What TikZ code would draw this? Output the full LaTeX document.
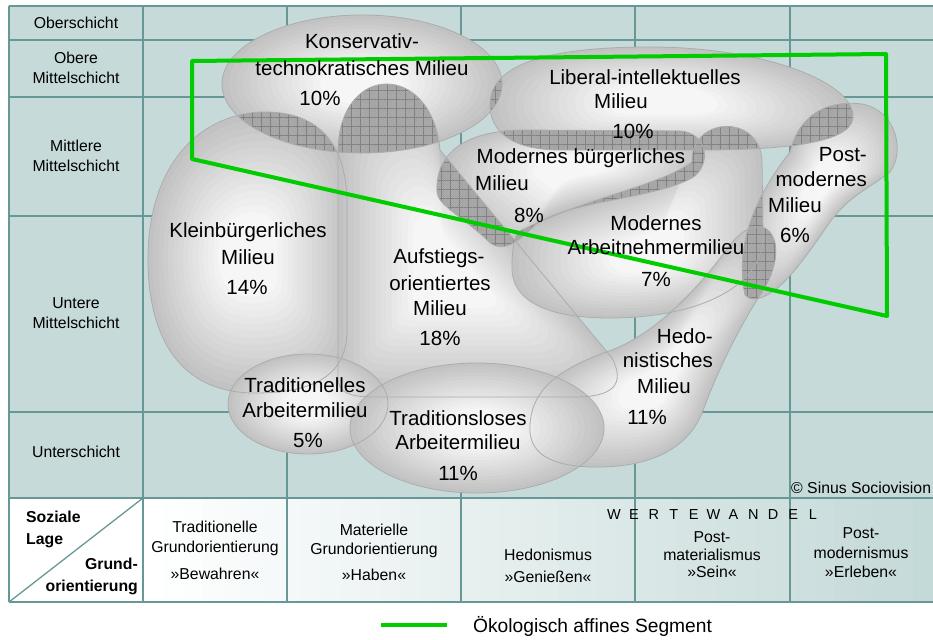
\documentclass[tikz,border=0pt]{standalone}
\usepackage{fontspec}
\setmainfont{Liberation Sans}
\usetikzlibrary{patterns.meta}

\definecolor{gridbg}{RGB}{197,218,217}
\definecolor{gridline}{RGB}{104,152,150}
\definecolor{blobin}{RGB}{247,247,247}
\definecolor{blobout}{RGB}{194,194,194}
\definecolor{blobedge}{RGB}{172,172,172}
\definecolor{hatchfill}{RGB}{176,176,176}
\definecolor{hatchfine}{RGB}{158,158,158}
\definecolor{hatchline}{RGB}{130,130,130}
\definecolor{oekogreen}{RGB}{0,204,0}

% Umrisse der Milieus (Pixelkoordinaten, y nach unten)
\newcommand{\pathKonserv}{(362,84) ellipse [x radius=140, y radius=69]}
\newcommand{\pathLiberal}{(490,105) .. controls (490,60) and (560,47) .. (650,47) .. controls (760,47) and (850,80) .. (853,115) .. controls (855,140) and (800,150) .. (700,150) -- (560,150) .. controls (510,150) and (490,130) .. (490,105) -- cycle}
\newcommand{\pathKleinb}{(148,265) .. controls (146,160) and (205,112) .. (265,112) .. controls (320,112) and (347,145) .. (347,205) -- (347,330) .. controls (347,378) and (310,393) .. (255,393) .. controls (185,393) and (150,345) .. (148,265) -- cycle}
\newcommand{\pathAufst}{(338,378) -- (338,150) .. controls (340,62) and (432,62) .. (440,150) -- (612,358) .. controls (626,385) and (612,397) .. (575,397) -- (375,397) .. controls (348,397) and (338,392) .. (338,378) -- cycle}
\newcommand{\pathModBuerg}{(437,192) .. controls (435,150) and (470,130) .. (525,130) -- (680,131) .. controls (708,133) and (712,165) .. (692,178) .. controls (650,200) and (570,200) .. (535,225) .. controls (515,245) and (500,255) .. (485,238) .. controls (460,215) and (438,205) .. (437,192) -- cycle}
\newcommand{\pathModArb}{(518,232) .. controls (590,196) and (660,186) .. (692,162) .. controls (690,118) and (758,112) .. (762,160) -- (763,235) .. controls (765,285) and (700,318) .. (610,318) .. controls (545,318) and (512,300) .. (512,268) .. controls (512,250) and (514,238) .. (518,232) -- cycle}
\newcommand{\pathPostmod}{(745,295) .. controls (735,250) and (752,200) .. (790,152) .. controls (800,112) and (830,100) .. (862,104) .. controls (895,110) and (906,150) .. (890,172) .. controls (870,188) and (850,195) .. (830,222) .. controls (805,258) and (785,287) .. (765,296) .. controls (757,300) and (749,300) .. (745,295) -- cycle}
\newcommand{\pathHedon}{(765,228) .. controls (782,238) and (778,270) .. (760,295) .. controls (738,330) and (718,370) .. (704,408) .. controls (690,448) and (652,467) .. (597,467) .. controls (548,467) and (528,452) .. (530,425) .. controls (532,388) and (560,368) .. (612,350) .. controls (650,335) and (690,300) .. (730,245) .. controls (740,232) and (752,224) .. (765,228) -- cycle}
\newcommand{\pathTradArb}{(308,404) ellipse [x radius=80, y radius=50]}
\newcommand{\pathTradlos}{(477,428) ellipse [x radius=127, y radius=65]}

% Milieu-Flaeche: Verlauf in Stufen zur Mitte hin
\newcommand{\milieublob}[2]{%
  \begin{scope}
    \clip #1;
    \fill[blobout] #1;
    \foreach \k [evaluate=\k as \s using {1-0.05*\k}, evaluate=\k as \c using {7*\k}] in {1,...,14}
      \fill[blobin!\c!blobout, scale around={\s:#2}] #1;
  \end{scope}}

\tikzset{
  gridrule/.style={draw=gridline, line width=1.3pt},
  blobline/.style={draw=blobedge, line width=0.8pt},
  hatched/.style={fill=hatchfill,
    postaction={pattern={Hatch[angle=45,distance=1.6pt,line width=0.25pt]}, pattern color=hatchfine},
    postaction={pattern={Hatch[angle=0,distance=9pt,line width=0.6pt]}, pattern color=hatchline}},
  oeko/.style={draw=oekogreen, line width=4pt},
  milieu/.style={font=\fontsize{20.5}{24}\selectfont, inner sep=0pt},
  schicht/.style={font=\fontsize{15.8}{19.5}\selectfont, inner sep=0pt, align=center},
  orient/.style={font=\fontsize{15.8}{20}\selectfont, inner sep=0pt, align=center},
}

\begin{document}
\begin{tikzpicture}[x=1pt, y=-1pt]
\useasboundingbox (0,0) rectangle (933,639);

% Raster
\fill[gridbg] (9,6) rectangle (933,498);
\fill[white] (9,498) rectangle (143,602);
\foreach \i [evaluate=\i as \w using {100-\i*2.6}] in {0,...,39}
  \fill[white!\w!gridbg] ({143+\i*19.75},498) rectangle ({143+(\i+1)*19.75+0.6},602);
\foreach \y in {6,40,97,216,412,498,602}
  \draw[gridrule] (9,\y) -- (933,\y);
\foreach \x in {9,143,287,461,635,790}
  \draw[gridrule] (\x,6) -- (\x,602);
\draw[gridrule] (9,602) -- (143,498);

% Milieus
\milieublob{\pathKonserv}{(362,84)}
\milieublob{\pathLiberal}{(660,100)}
\milieublob{\pathKleinb}{(248,255)}
\milieublob{\pathAufst}{(445,270)}
\milieublob{\pathModBuerg}{(575,165)}
\milieublob{\pathModArb}{(650,255)}
\milieublob{\pathPostmod}{(825,180)}
\milieublob{\pathHedon}{(655,385)}
\milieublob{\pathTradArb}{(308,404)}
\milieublob{\pathTradlos}{(477,428)}

% Ueberschneidungen
\begin{scope} \clip \pathKonserv; \fill[hatched] \pathKleinb; \end{scope}
\begin{scope} \clip \pathKonserv; \fill[hatched] \pathAufst; \end{scope}
\begin{scope} \clip \pathKonserv; \fill[hatched] \pathLiberal; \end{scope}
\begin{scope} \clip \pathLiberal; \fill[hatched] \pathModBuerg; \end{scope}
\begin{scope} \clip \pathLiberal; \fill[hatched] \pathModArb; \end{scope}
\begin{scope} \clip \pathLiberal; \fill[hatched] \pathPostmod; \end{scope}
\begin{scope} \clip \pathAufst; \fill[hatched] \pathModBuerg; \end{scope}
\begin{scope} \clip \pathModBuerg; \fill[hatched] \pathModArb; \end{scope}
\begin{scope} \clip \pathModArb; \fill[hatched] \pathPostmod; \end{scope}
\begin{scope} \clip \pathPostmod; \fill[hatched] \pathHedon; \end{scope}

\draw[blobline] \pathKonserv;
\draw[blobline] \pathLiberal;
\draw[blobline] \pathKleinb;
\draw[blobline] \pathAufst;
\draw[blobline] \pathModBuerg;
\draw[blobline] \pathModArb;
\draw[blobline] \pathPostmod;
\draw[blobline] \pathHedon;
\draw[blobline] \pathTradArb;
\draw[blobline] \pathTradlos;

% oekologisch affines Segment
\draw[oeko, line join=round] (192,61) -- (886,54) -- (887,316) -- (192,159) -- cycle;

% Schichten
\node[schicht] (ober) at (76,23) {Oberschicht};
\node[schicht] (obm) at (76,68) {Obere\\Mittelschicht};
\node[schicht] (mim) at (76,156) {Mittlere\\Mittelschicht};
\node[schicht] (unm) at (76,313) {Untere\\Mittelschicht};
\node[schicht] (unt) at (76,452) {Unterschicht};

% Milieu-Beschriftungen
\node[milieu] (kon1) at (362,41) {Konservativ-};
\node[milieu] (kon2) at (362,68) {technokratisches Milieu};
\node[milieu] (kon3) at (320,98) {10\%};
\node[milieu] (lib1) at (645,77) {Liberal-intellektuelles};
\node[milieu] (lib2) at (621,101) {Milieu};
\node[milieu] (lib3) at (633,131) {10\%};
\node[milieu] (mb1) at (581,158) {Modernes bürgerliches};
\node[milieu, anchor=west] (mb2) at (475,183) {Milieu};
\node[milieu] (mb3) at (529,215) {8\%};
\node[milieu] (ma1) at (656,223) {Modernes};
\node[milieu] (ma2) at (656,247) {Arbeitnehmermilieu};
\node[milieu] (ma3) at (656,279) {7\%};
\node[milieu, anchor=east] (pm1) at (867,155) {Post-};
\node[milieu, anchor=east] (pm2) at (867,179) {modernes};
\node[milieu] (pm3) at (795,205) {Milieu};
\node[milieu] (pm4) at (795,235) {6\%};
\node[milieu] (kb1) at (248,232) {Kleinbürgerliches};
\node[milieu] (kb2) at (248,257) {Milieu};
\node[milieu] (kb3) at (247,287) {14\%};
\node[milieu] (au1) at (439,258) {Aufstiegs-};
\node[milieu] (au2) at (440,283) {orientiertes};
\node[milieu] (au3) at (440,308) {Milieu};
\node[milieu] (au4) at (440,338) {18\%};
\node[milieu] (ta1) at (305,385) {Traditionelles};
\node[milieu] (ta2) at (305,410) {Arbeitermilieu};
\node[milieu] (ta3) at (308,440) {5\%};
\node[milieu] (tl1) at (458,418) {Traditionsloses};
\node[milieu] (tl2) at (458,442) {Arbeitermilieu};
\node[milieu] (tl3) at (458,473) {11\%};
\node[milieu, anchor=east] (he1) at (713,336) {Hedo-};
\node[milieu, anchor=east] (he2) at (713,360) {nistisches};
\node[milieu] (he3) at (664,386) {Milieu};
\node[milieu] (he4) at (647,417) {11\%};

\node[schicht, anchor=west] (copy) at (791,488) {© Sinus Sociovision};

% Grundorientierungen
\node[orient, font=\fontsize{15.8}{22}\selectfont\bfseries, align=left, anchor=west] (lage) at (26,529) {Soziale\\Lage};
\node[orient, font=\fontsize{15.8}{22}\selectfont\bfseries, align=right, anchor=east] (grund) at (138,576) {Grund-\\orientierung};
\node[orient] (trad) at (215,538.5) {Traditionelle\\Grundorientierung};
\node[orient] (bew) at (215,574) {»Bewahren«};
\node[orient, font=\fontsize{15.8}{19}\selectfont] (mat) at (374,540.5) {Materielle\\Grundorientierung};
\node[orient] (hab) at (374,575) {»Haben«};
\node[orient] (hed) at (548,555) {Hedonismus};
\node[orient] (gen) at (548,577) {»Genießen«};
\node[orient, font=\fontsize{15.8}{18.5}\selectfont] (pmat) at (712,546) {Post-\\materialismus};
\node[orient] (sein) at (712,572) {»Sein«};
\node[orient, font=\fontsize{15.8}{20}\selectfont] (pmod) at (861,543) {Post-\\modernismus};
\node[orient] (erl) at (861,572) {»Erleben«};
\foreach \ch [count=\i] in {W,E,R,T,E,W,A,N,D,E,L}
  \node[orient, font=\fontsize{14.5}{16}\selectfont] (ww\i) at ({614+(\i-1)*19.9},515) {\ch};

% Legende
\coordinate (legA) at (381,625);
\coordinate (legB) at (447,625);
\draw[oeko] (legA) -- (legB);
\node[font=\fontsize{19.2}{22}\selectfont, inner sep=0pt, anchor=west] (leg) at (473,626) {Ökologisch affines Segment};
\end{tikzpicture}
\end{document}
